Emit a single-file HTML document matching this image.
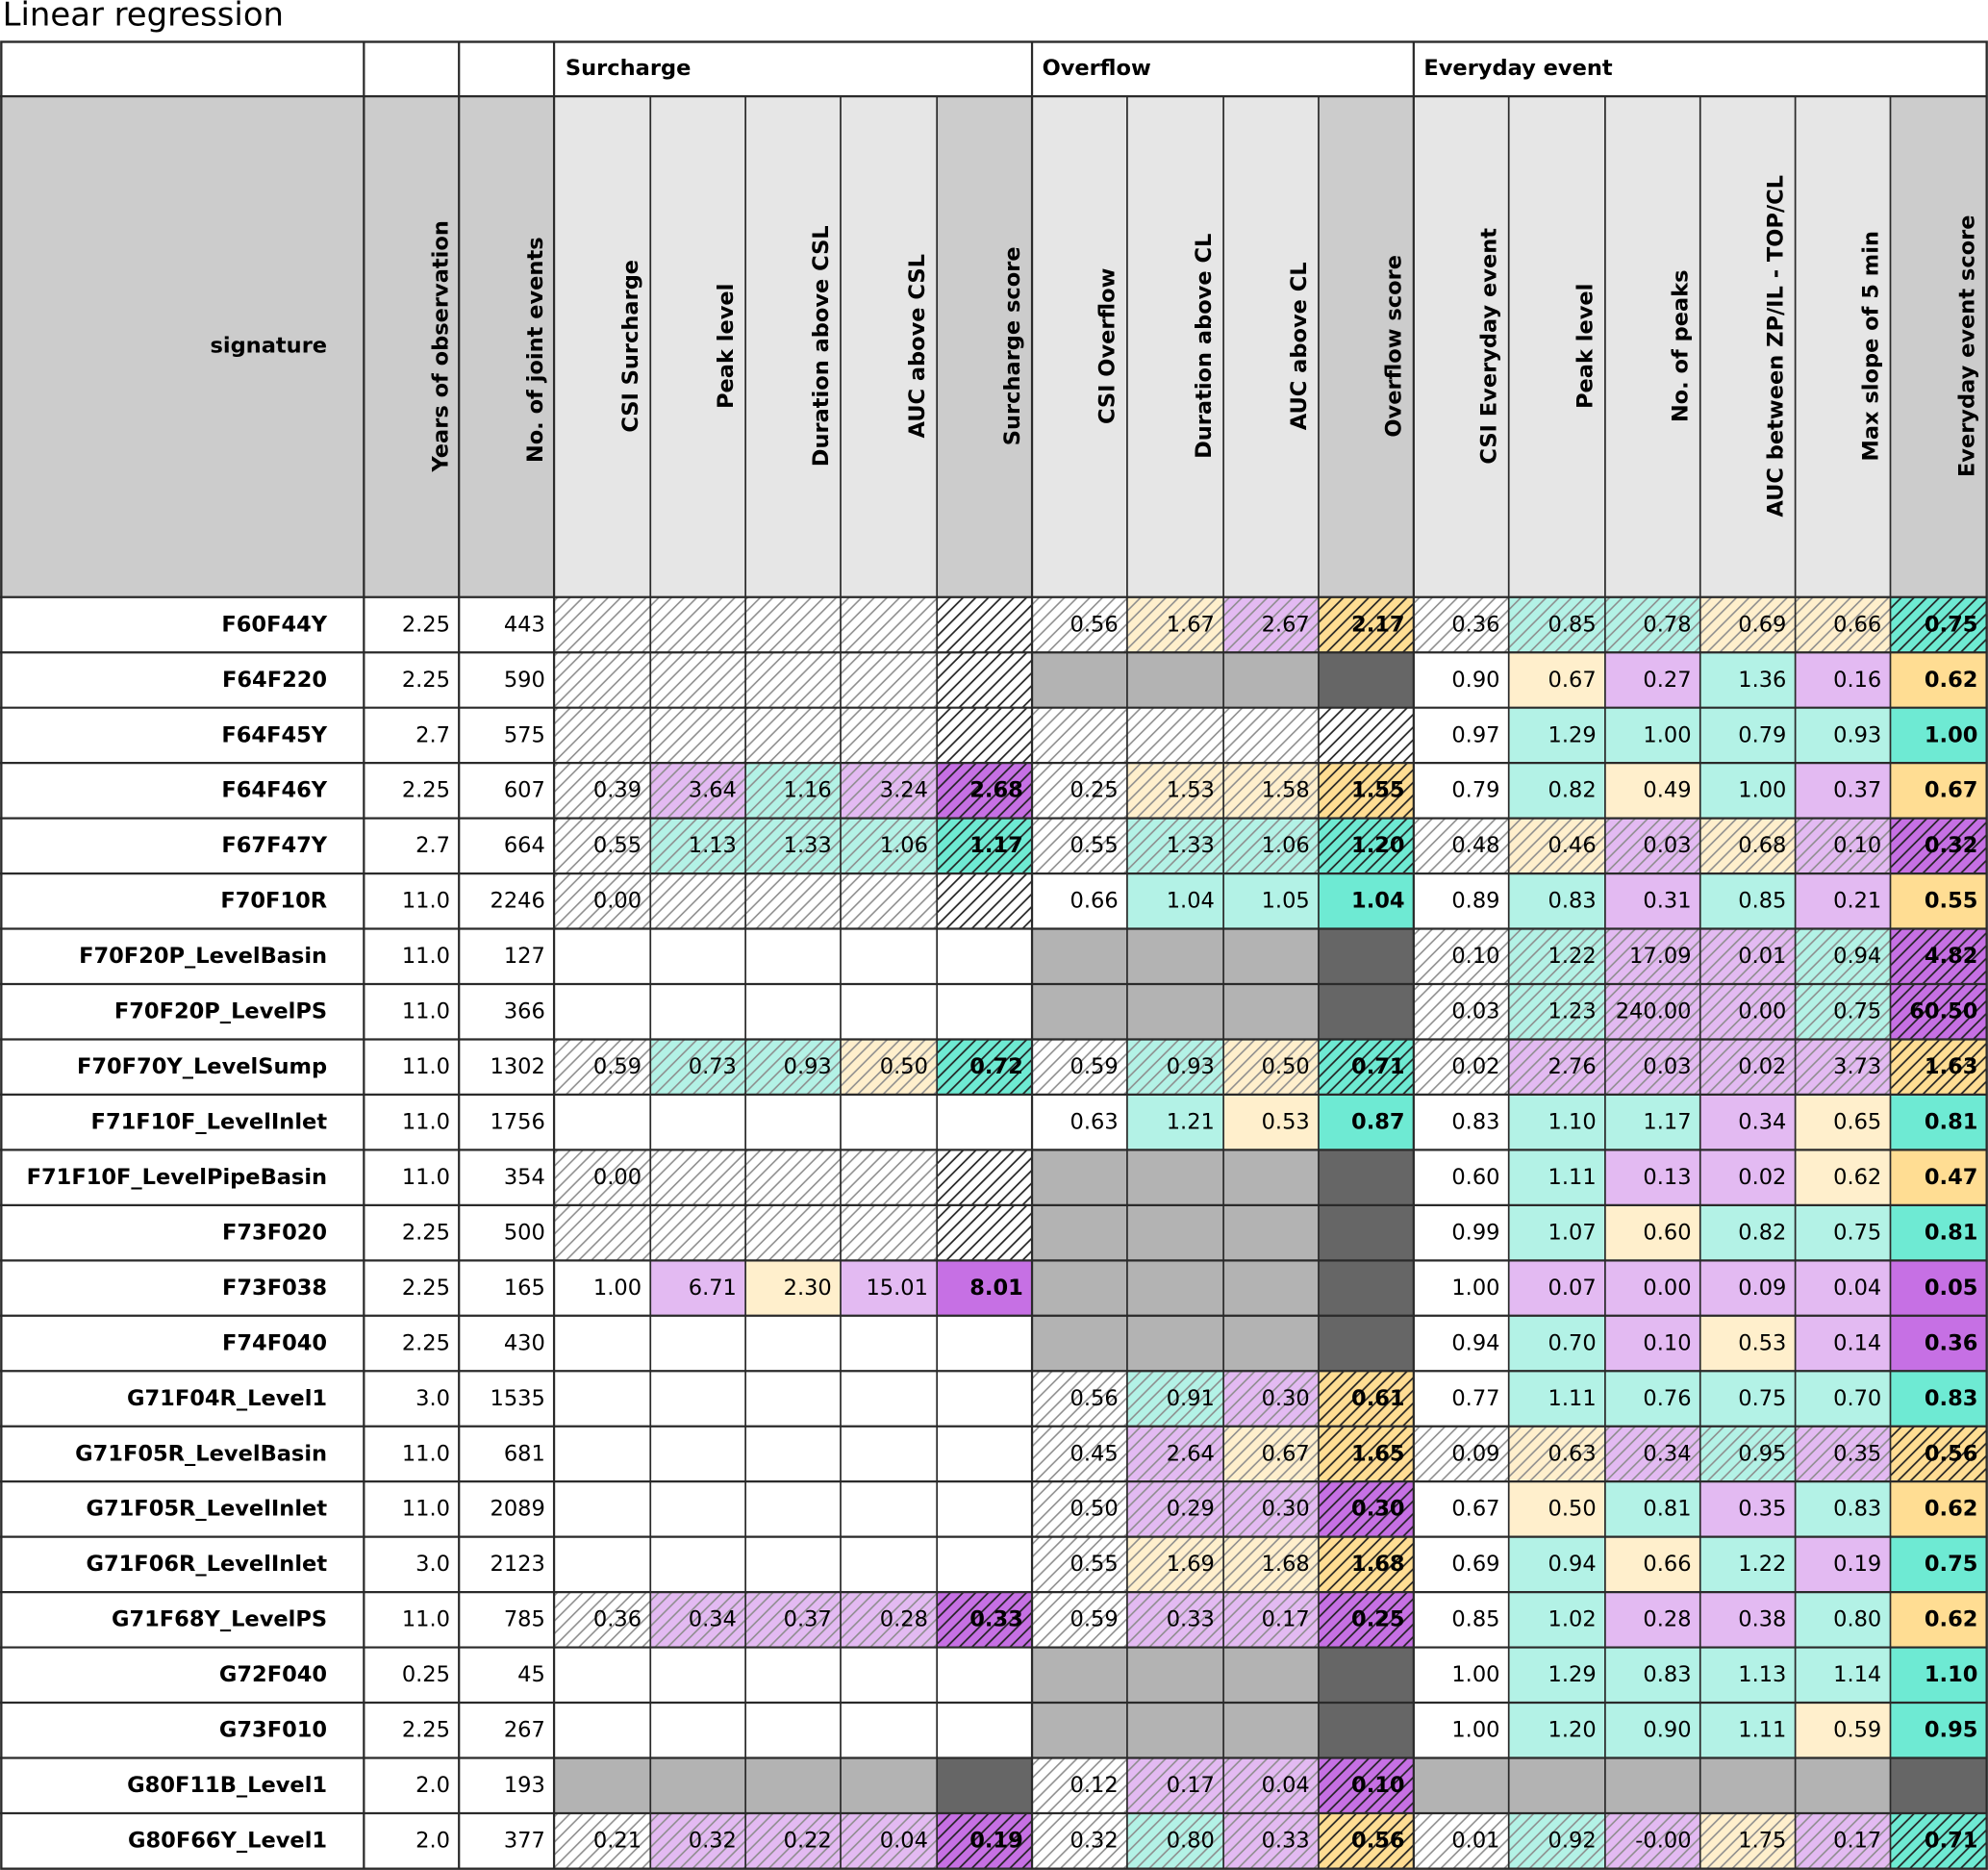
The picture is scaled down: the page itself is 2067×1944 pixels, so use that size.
<!DOCTYPE html>
<html><head><meta charset="utf-8"><style>
html,body{margin:0;padding:0;background:#fff}
svg{display:block}
text{font-family:"DejaVu Sans","Liberation Sans",sans-serif;font-size:17.1px;fill:#000;text-anchor:end}
.b{font-weight:bold}
.r rect{height:43.6px}
.w{fill:#fff}.t{fill:#b3f2e6}.T{fill:#6eead3}.p{fill:#e3baf2}.P{fill:#c670e4}.o{fill:#ffefcc}.O{fill:#ffdd93}.g{fill:#b3b3b3}.d{fill:#666}
.hl{fill:url(#hl)}.hd{fill:url(#hd)}
</style></head><body>
<svg width="2067" height="1944" viewBox="0 0 1568 1475" preserveAspectRatio="none" xmlns="http://www.w3.org/2000/svg">
<defs>
<pattern id="hl" patternUnits="userSpaceOnUse" width="10" height="10"><path d="M-1,1 l2,-2 M0,10 l10,-10 M9,11 l2,-2" stroke="#8c8c8c" stroke-width="1.2"/></pattern>
<pattern id="hd" patternUnits="userSpaceOnUse" width="10" height="10"><path d="M-1,1 l2,-2 M0,10 l10,-10 M9,11 l2,-2" stroke="#222" stroke-width="1.3"/></pattern>
</defs>
<rect width="1568" height="1475" fill="#fff"/>
<text x="2" y="20" style="text-anchor:start;font-size:25.7px">Linear regression</text>
<!-- header -->
<rect x="0" y="76" width="437" height="395" fill="#ccc"/>
<rect x="437" y="76" width="302" height="395" fill="#e6e6e6"/>
<rect x="739" y="76" width="75" height="395" fill="#ccc"/>
<rect x="814" y="76" width="226" height="395" fill="#e6e6e6"/>
<rect x="1040" y="76" width="75" height="395" fill="#ccc"/>
<rect x="1115" y="76" width="376" height="395" fill="#e6e6e6"/>
<rect x="1491" y="76" width="76" height="395" fill="#ccc"/>
<g class="b">
<text x="446" y="59" style="text-anchor:start">Surcharge</text>
<text x="822" y="59" style="text-anchor:start">Overflow</text>
<text x="1123" y="59" style="text-anchor:start">Everyday event</text>
<text x="258" y="278">signature</text>
</g>
<g class="b" style="text-anchor:middle">
<text transform="translate(353,273) rotate(-90)" style="text-anchor:middle">Years of observation</text>
<text transform="translate(428,276) rotate(-90)" style="text-anchor:middle">No. of joint events</text>
<text transform="translate(503,273) rotate(-90)" style="text-anchor:middle">CSI Surcharge</text>
<text transform="translate(578,273) rotate(-90)" style="text-anchor:middle">Peak level</text>
<text transform="translate(653,273) rotate(-90)" style="text-anchor:middle">Duration above CSL</text>
<text transform="translate(729,273) rotate(-90)" style="text-anchor:middle">AUC above CSL</text>
<text transform="translate(804,273) rotate(-90)" style="text-anchor:middle">Surcharge score</text>
<text transform="translate(879,273) rotate(-90)" style="text-anchor:middle">CSI Overflow</text>
<text transform="translate(955,273) rotate(-90)" style="text-anchor:middle">Duration above CL</text>
<text transform="translate(1030,273) rotate(-90)" style="text-anchor:middle">AUC above CL</text>
<text transform="translate(1105,273) rotate(-90)" style="text-anchor:middle">Overflow score</text>
<text transform="translate(1180,273) rotate(-90)" style="text-anchor:middle">CSI Everyday event</text>
<text transform="translate(1256,273) rotate(-90)" style="text-anchor:middle">Peak level</text>
<text transform="translate(1331,273) rotate(-90)" style="text-anchor:middle">No. of peaks</text>
<text transform="translate(1406,273) rotate(-90)" style="text-anchor:middle">AUC between ZP/IL - TOP/CL</text>
<text transform="translate(1481,273) rotate(-90)" style="text-anchor:middle">Max slope of 5 min</text>
<text transform="translate(1557,273) rotate(-90)" style="text-anchor:middle">Everyday event score</text>
</g>

<!-- row 0 -->
<g class="r" transform="translate(0,471)">
<rect class="o" x="889" width="76"/><rect class="p" x="965" width="75"/><rect class="O" x="1040" width="75"/>
<rect class="t" x="1190" width="76"/><rect class="t" x="1266" width="75"/><rect class="o" x="1341" width="75"/><rect class="o" x="1416" width="75"/><rect class="T" x="1491" width="76"/>
<rect class="hl" x="437" width="302"/><rect class="hd" x="739" width="75"/><rect class="hl" x="814" width="226"/><rect class="hd" x="1040" width="75"/><rect class="hl" x="1115" width="376"/><rect class="hd" x="1491" width="76"/>
<text x="258" y="27" class="b">F60F44Y</text><text x="355" y="27">2.25</text><text x="430" y="27">443</text>
<text x="882" y="27">0.56</text><text x="958" y="27">1.67</text><text x="1033" y="27">2.67</text><text x="1108" y="27" class="b">2.17</text>
<text x="1183" y="27">0.36</text><text x="1259" y="27">0.85</text><text x="1334" y="27">0.78</text><text x="1409" y="27">0.69</text><text x="1484" y="27">0.66</text><text x="1560" y="27" class="b">0.75</text>
</g>
<!-- row 1 -->
<g class="r" transform="translate(0,514.6)">
<rect class="g" x="814" width="226"/><rect class="d" x="1040" width="75"/>
<rect class="o" x="1190" width="76"/><rect class="p" x="1266" width="75"/><rect class="t" x="1341" width="75"/><rect class="p" x="1416" width="75"/><rect class="O" x="1491" width="76"/>
<rect class="hl" x="437" width="302"/><rect class="hd" x="739" width="75"/>
<text x="258" y="27" class="b">F64F220</text><text x="355" y="27">2.25</text><text x="430" y="27">590</text>
<text x="1183" y="27">0.90</text><text x="1259" y="27">0.67</text><text x="1334" y="27">0.27</text><text x="1409" y="27">1.36</text><text x="1484" y="27">0.16</text><text x="1560" y="27" class="b">0.62</text>
</g>
<!-- row 2 -->
<g class="r" transform="translate(0,558.2)">
<rect class="t" x="1190" width="76"/><rect class="t" x="1266" width="75"/><rect class="t" x="1341" width="75"/><rect class="t" x="1416" width="75"/><rect class="T" x="1491" width="76"/>
<rect class="hl" x="437" width="302"/><rect class="hd" x="739" width="75"/><rect class="hl" x="814" width="226"/><rect class="hd" x="1040" width="75"/>
<text x="258" y="27" class="b">F64F45Y</text><text x="355" y="27">2.7</text><text x="430" y="27">575</text>
<text x="1183" y="27">0.97</text><text x="1259" y="27">1.29</text><text x="1334" y="27">1.00</text><text x="1409" y="27">0.79</text><text x="1484" y="27">0.93</text><text x="1560" y="27" class="b">1.00</text>
</g>
<!-- row 3 -->
<g class="r" transform="translate(0,601.8)">
<rect class="p" x="513" width="75"/><rect class="t" x="588" width="75"/><rect class="p" x="663" width="76"/><rect class="P" x="739" width="75"/>
<rect class="o" x="889" width="76"/><rect class="o" x="965" width="75"/><rect class="O" x="1040" width="75"/>
<rect class="t" x="1190" width="76"/><rect class="o" x="1266" width="75"/><rect class="t" x="1341" width="75"/><rect class="p" x="1416" width="75"/><rect class="O" x="1491" width="76"/>
<rect class="hl" x="437" width="302"/><rect class="hd" x="739" width="75"/><rect class="hl" x="814" width="226"/><rect class="hd" x="1040" width="75"/>
<text x="258" y="27" class="b">F64F46Y</text><text x="355" y="27">2.25</text><text x="430" y="27">607</text>
<text x="506" y="27">0.39</text><text x="581" y="27">3.64</text><text x="656" y="27">1.16</text><text x="732" y="27">3.24</text><text x="807" y="27" class="b">2.68</text>
<text x="882" y="27">0.25</text><text x="958" y="27">1.53</text><text x="1033" y="27">1.58</text><text x="1108" y="27" class="b">1.55</text>
<text x="1183" y="27">0.79</text><text x="1259" y="27">0.82</text><text x="1334" y="27">0.49</text><text x="1409" y="27">1.00</text><text x="1484" y="27">0.37</text><text x="1560" y="27" class="b">0.67</text>
</g>
<!-- row 4 -->
<g class="r" transform="translate(0,645.4)">
<rect class="t" x="513" width="75"/><rect class="t" x="588" width="75"/><rect class="t" x="663" width="76"/><rect class="T" x="739" width="75"/>
<rect class="t" x="889" width="76"/><rect class="t" x="965" width="75"/><rect class="T" x="1040" width="75"/>
<rect class="o" x="1190" width="76"/><rect class="p" x="1266" width="75"/><rect class="o" x="1341" width="75"/><rect class="p" x="1416" width="75"/><rect class="P" x="1491" width="76"/>
<rect class="hl" x="437" width="302"/><rect class="hd" x="739" width="75"/><rect class="hl" x="814" width="226"/><rect class="hd" x="1040" width="75"/><rect class="hl" x="1115" width="376"/><rect class="hd" x="1491" width="76"/>
<text x="258" y="27" class="b">F67F47Y</text><text x="355" y="27">2.7</text><text x="430" y="27">664</text>
<text x="506" y="27">0.55</text><text x="581" y="27">1.13</text><text x="656" y="27">1.33</text><text x="732" y="27">1.06</text><text x="807" y="27" class="b">1.17</text>
<text x="882" y="27">0.55</text><text x="958" y="27">1.33</text><text x="1033" y="27">1.06</text><text x="1108" y="27" class="b">1.20</text>
<text x="1183" y="27">0.48</text><text x="1259" y="27">0.46</text><text x="1334" y="27">0.03</text><text x="1409" y="27">0.68</text><text x="1484" y="27">0.10</text><text x="1560" y="27" class="b">0.32</text>
</g>
<!-- row 5 -->
<g class="r" transform="translate(0,689)">
<rect class="t" x="889" width="76"/><rect class="t" x="965" width="75"/><rect class="T" x="1040" width="75"/>
<rect class="t" x="1190" width="76"/><rect class="p" x="1266" width="75"/><rect class="t" x="1341" width="75"/><rect class="p" x="1416" width="75"/><rect class="O" x="1491" width="76"/>
<rect class="hl" x="437" width="302"/><rect class="hd" x="739" width="75"/>
<text x="258" y="27" class="b">F70F10R</text><text x="355" y="27">11.0</text><text x="430" y="27">2246</text>
<text x="506" y="27">0.00</text>
<text x="882" y="27">0.66</text><text x="958" y="27">1.04</text><text x="1033" y="27">1.05</text><text x="1108" y="27" class="b">1.04</text>
<text x="1183" y="27">0.89</text><text x="1259" y="27">0.83</text><text x="1334" y="27">0.31</text><text x="1409" y="27">0.85</text><text x="1484" y="27">0.21</text><text x="1560" y="27" class="b">0.55</text>
</g>
<!-- row 6 -->
<g class="r" transform="translate(0,732.6)">
<rect class="g" x="814" width="226"/><rect class="d" x="1040" width="75"/>
<rect class="t" x="1190" width="76"/><rect class="p" x="1266" width="75"/><rect class="p" x="1341" width="75"/><rect class="t" x="1416" width="75"/><rect class="P" x="1491" width="76"/>
<rect class="hl" x="1115" width="376"/><rect class="hd" x="1491" width="76"/>
<text x="258" y="27" class="b">F70F20P_LevelBasin</text><text x="355" y="27">11.0</text><text x="430" y="27">127</text>
<text x="1183" y="27">0.10</text><text x="1259" y="27">1.22</text><text x="1334" y="27">17.09</text><text x="1409" y="27">0.01</text><text x="1484" y="27">0.94</text><text x="1560" y="27" class="b">4.82</text>
</g>
<!-- row 7 -->
<g class="r" transform="translate(0,776.2)">
<rect class="g" x="814" width="226"/><rect class="d" x="1040" width="75"/>
<rect class="t" x="1190" width="76"/><rect class="p" x="1266" width="75"/><rect class="p" x="1341" width="75"/><rect class="t" x="1416" width="75"/><rect class="P" x="1491" width="76"/>
<rect class="hl" x="1115" width="376"/><rect class="hd" x="1491" width="76"/>
<text x="258" y="27" class="b">F70F20P_LevelPS</text><text x="355" y="27">11.0</text><text x="430" y="27">366</text>
<text x="1183" y="27">0.03</text><text x="1259" y="27">1.23</text><text x="1334" y="27">240.00</text><text x="1409" y="27">0.00</text><text x="1484" y="27">0.75</text><text x="1560" y="27" class="b">60.50</text>
</g>
<!-- row 8 -->
<g class="r" transform="translate(0,819.8)">
<rect class="t" x="513" width="75"/><rect class="t" x="588" width="75"/><rect class="o" x="663" width="76"/><rect class="T" x="739" width="75"/>
<rect class="t" x="889" width="76"/><rect class="o" x="965" width="75"/><rect class="T" x="1040" width="75"/>
<rect class="p" x="1190" width="76"/><rect class="p" x="1266" width="75"/><rect class="p" x="1341" width="75"/><rect class="p" x="1416" width="75"/><rect class="O" x="1491" width="76"/>
<rect class="hl" x="437" width="302"/><rect class="hd" x="739" width="75"/><rect class="hl" x="814" width="226"/><rect class="hd" x="1040" width="75"/><rect class="hl" x="1115" width="376"/><rect class="hd" x="1491" width="76"/>
<text x="258" y="27" class="b">F70F70Y_LevelSump</text><text x="355" y="27">11.0</text><text x="430" y="27">1302</text>
<text x="506" y="27">0.59</text><text x="581" y="27">0.73</text><text x="656" y="27">0.93</text><text x="732" y="27">0.50</text><text x="807" y="27" class="b">0.72</text>
<text x="882" y="27">0.59</text><text x="958" y="27">0.93</text><text x="1033" y="27">0.50</text><text x="1108" y="27" class="b">0.71</text>
<text x="1183" y="27">0.02</text><text x="1259" y="27">2.76</text><text x="1334" y="27">0.03</text><text x="1409" y="27">0.02</text><text x="1484" y="27">3.73</text><text x="1560" y="27" class="b">1.63</text>
</g>
<!-- row 9 -->
<g class="r" transform="translate(0,863.4)">
<rect class="t" x="889" width="76"/><rect class="o" x="965" width="75"/><rect class="T" x="1040" width="75"/>
<rect class="t" x="1190" width="76"/><rect class="t" x="1266" width="75"/><rect class="p" x="1341" width="75"/><rect class="o" x="1416" width="75"/><rect class="T" x="1491" width="76"/>
<text x="258" y="27" class="b">F71F10F_LevelInlet</text><text x="355" y="27">11.0</text><text x="430" y="27">1756</text>
<text x="882" y="27">0.63</text><text x="958" y="27">1.21</text><text x="1033" y="27">0.53</text><text x="1108" y="27" class="b">0.87</text>
<text x="1183" y="27">0.83</text><text x="1259" y="27">1.10</text><text x="1334" y="27">1.17</text><text x="1409" y="27">0.34</text><text x="1484" y="27">0.65</text><text x="1560" y="27" class="b">0.81</text>
</g>
<!-- row 10 -->
<g class="r" transform="translate(0,907)">
<rect class="g" x="814" width="226"/><rect class="d" x="1040" width="75"/>
<rect class="t" x="1190" width="76"/><rect class="p" x="1266" width="75"/><rect class="p" x="1341" width="75"/><rect class="o" x="1416" width="75"/><rect class="O" x="1491" width="76"/>
<rect class="hl" x="437" width="302"/><rect class="hd" x="739" width="75"/>
<text x="258" y="27" class="b">F71F10F_LevelPipeBasin</text><text x="355" y="27">11.0</text><text x="430" y="27">354</text>
<text x="506" y="27">0.00</text>
<text x="1183" y="27">0.60</text><text x="1259" y="27">1.11</text><text x="1334" y="27">0.13</text><text x="1409" y="27">0.02</text><text x="1484" y="27">0.62</text><text x="1560" y="27" class="b">0.47</text>
</g>
<!-- row 11 -->
<g class="r" transform="translate(0,950.6)">
<rect class="g" x="814" width="226"/><rect class="d" x="1040" width="75"/>
<rect class="t" x="1190" width="76"/><rect class="o" x="1266" width="75"/><rect class="t" x="1341" width="75"/><rect class="t" x="1416" width="75"/><rect class="T" x="1491" width="76"/>
<rect class="hl" x="437" width="302"/><rect class="hd" x="739" width="75"/>
<text x="258" y="27" class="b">F73F020</text><text x="355" y="27">2.25</text><text x="430" y="27">500</text>
<text x="1183" y="27">0.99</text><text x="1259" y="27">1.07</text><text x="1334" y="27">0.60</text><text x="1409" y="27">0.82</text><text x="1484" y="27">0.75</text><text x="1560" y="27" class="b">0.81</text>
</g>
<!-- row 12 -->
<g class="r" transform="translate(0,994.2)">
<rect class="p" x="513" width="75"/><rect class="o" x="588" width="75"/><rect class="p" x="663" width="76"/><rect class="P" x="739" width="75"/>
<rect class="g" x="814" width="226"/><rect class="d" x="1040" width="75"/>
<rect class="p" x="1190" width="76"/><rect class="p" x="1266" width="75"/><rect class="p" x="1341" width="75"/><rect class="p" x="1416" width="75"/><rect class="P" x="1491" width="76"/>
<text x="258" y="27" class="b">F73F038</text><text x="355" y="27">2.25</text><text x="430" y="27">165</text>
<text x="506" y="27">1.00</text><text x="581" y="27">6.71</text><text x="656" y="27">2.30</text><text x="732" y="27">15.01</text><text x="807" y="27" class="b">8.01</text>
<text x="1183" y="27">1.00</text><text x="1259" y="27">0.07</text><text x="1334" y="27">0.00</text><text x="1409" y="27">0.09</text><text x="1484" y="27">0.04</text><text x="1560" y="27" class="b">0.05</text>
</g>
<!-- row 13 -->
<g class="r" transform="translate(0,1037.8)">
<rect class="g" x="814" width="226"/><rect class="d" x="1040" width="75"/>
<rect class="t" x="1190" width="76"/><rect class="p" x="1266" width="75"/><rect class="o" x="1341" width="75"/><rect class="p" x="1416" width="75"/><rect class="P" x="1491" width="76"/>
<text x="258" y="27" class="b">F74F040</text><text x="355" y="27">2.25</text><text x="430" y="27">430</text>
<text x="1183" y="27">0.94</text><text x="1259" y="27">0.70</text><text x="1334" y="27">0.10</text><text x="1409" y="27">0.53</text><text x="1484" y="27">0.14</text><text x="1560" y="27" class="b">0.36</text>
</g>
<!-- row 14 -->
<g class="r" transform="translate(0,1081.4)">
<rect class="t" x="889" width="76"/><rect class="p" x="965" width="75"/><rect class="O" x="1040" width="75"/>
<rect class="t" x="1190" width="76"/><rect class="t" x="1266" width="75"/><rect class="t" x="1341" width="75"/><rect class="t" x="1416" width="75"/><rect class="T" x="1491" width="76"/>
<rect class="hl" x="814" width="226"/><rect class="hd" x="1040" width="75"/>
<text x="258" y="27" class="b">G71F04R_Level1</text><text x="355" y="27">3.0</text><text x="430" y="27">1535</text>
<text x="882" y="27">0.56</text><text x="958" y="27">0.91</text><text x="1033" y="27">0.30</text><text x="1108" y="27" class="b">0.61</text>
<text x="1183" y="27">0.77</text><text x="1259" y="27">1.11</text><text x="1334" y="27">0.76</text><text x="1409" y="27">0.75</text><text x="1484" y="27">0.70</text><text x="1560" y="27" class="b">0.83</text>
</g>
<!-- row 15 -->
<g class="r" transform="translate(0,1125)">
<rect class="p" x="889" width="76"/><rect class="o" x="965" width="75"/><rect class="O" x="1040" width="75"/>
<rect class="o" x="1190" width="76"/><rect class="p" x="1266" width="75"/><rect class="t" x="1341" width="75"/><rect class="p" x="1416" width="75"/><rect class="O" x="1491" width="76"/>
<rect class="hl" x="814" width="226"/><rect class="hd" x="1040" width="75"/><rect class="hl" x="1115" width="376"/><rect class="hd" x="1491" width="76"/>
<text x="258" y="27" class="b">G71F05R_LevelBasin</text><text x="355" y="27">11.0</text><text x="430" y="27">681</text>
<text x="882" y="27">0.45</text><text x="958" y="27">2.64</text><text x="1033" y="27">0.67</text><text x="1108" y="27" class="b">1.65</text>
<text x="1183" y="27">0.09</text><text x="1259" y="27">0.63</text><text x="1334" y="27">0.34</text><text x="1409" y="27">0.95</text><text x="1484" y="27">0.35</text><text x="1560" y="27" class="b">0.56</text>
</g>
<!-- row 16 -->
<g class="r" transform="translate(0,1168.6)">
<rect class="p" x="889" width="76"/><rect class="p" x="965" width="75"/><rect class="P" x="1040" width="75"/>
<rect class="o" x="1190" width="76"/><rect class="t" x="1266" width="75"/><rect class="p" x="1341" width="75"/><rect class="t" x="1416" width="75"/><rect class="O" x="1491" width="76"/>
<rect class="hl" x="814" width="226"/><rect class="hd" x="1040" width="75"/>
<text x="258" y="27" class="b">G71F05R_LevelInlet</text><text x="355" y="27">11.0</text><text x="430" y="27">2089</text>
<text x="882" y="27">0.50</text><text x="958" y="27">0.29</text><text x="1033" y="27">0.30</text><text x="1108" y="27" class="b">0.30</text>
<text x="1183" y="27">0.67</text><text x="1259" y="27">0.50</text><text x="1334" y="27">0.81</text><text x="1409" y="27">0.35</text><text x="1484" y="27">0.83</text><text x="1560" y="27" class="b">0.62</text>
</g>
<!-- row 17 -->
<g class="r" transform="translate(0,1212.2)">
<rect class="o" x="889" width="76"/><rect class="o" x="965" width="75"/><rect class="O" x="1040" width="75"/>
<rect class="t" x="1190" width="76"/><rect class="o" x="1266" width="75"/><rect class="t" x="1341" width="75"/><rect class="p" x="1416" width="75"/><rect class="T" x="1491" width="76"/>
<rect class="hl" x="814" width="226"/><rect class="hd" x="1040" width="75"/>
<text x="258" y="27" class="b">G71F06R_LevelInlet</text><text x="355" y="27">3.0</text><text x="430" y="27">2123</text>
<text x="882" y="27">0.55</text><text x="958" y="27">1.69</text><text x="1033" y="27">1.68</text><text x="1108" y="27" class="b">1.68</text>
<text x="1183" y="27">0.69</text><text x="1259" y="27">0.94</text><text x="1334" y="27">0.66</text><text x="1409" y="27">1.22</text><text x="1484" y="27">0.19</text><text x="1560" y="27" class="b">0.75</text>
</g>
<!-- row 18 -->
<g class="r" transform="translate(0,1255.8)">
<rect class="p" x="513" width="75"/><rect class="p" x="588" width="75"/><rect class="p" x="663" width="76"/><rect class="P" x="739" width="75"/>
<rect class="p" x="889" width="76"/><rect class="p" x="965" width="75"/><rect class="P" x="1040" width="75"/>
<rect class="t" x="1190" width="76"/><rect class="p" x="1266" width="75"/><rect class="p" x="1341" width="75"/><rect class="t" x="1416" width="75"/><rect class="O" x="1491" width="76"/>
<rect class="hl" x="437" width="302"/><rect class="hd" x="739" width="75"/><rect class="hl" x="814" width="226"/><rect class="hd" x="1040" width="75"/>
<text x="258" y="27" class="b">G71F68Y_LevelPS</text><text x="355" y="27">11.0</text><text x="430" y="27">785</text>
<text x="506" y="27">0.36</text><text x="581" y="27">0.34</text><text x="656" y="27">0.37</text><text x="732" y="27">0.28</text><text x="807" y="27" class="b">0.33</text>
<text x="882" y="27">0.59</text><text x="958" y="27">0.33</text><text x="1033" y="27">0.17</text><text x="1108" y="27" class="b">0.25</text>
<text x="1183" y="27">0.85</text><text x="1259" y="27">1.02</text><text x="1334" y="27">0.28</text><text x="1409" y="27">0.38</text><text x="1484" y="27">0.80</text><text x="1560" y="27" class="b">0.62</text>
</g>
<!-- row 19 -->
<g class="r" transform="translate(0,1299.4)">
<rect class="g" x="814" width="226"/><rect class="d" x="1040" width="75"/>
<rect class="t" x="1190" width="76"/><rect class="t" x="1266" width="75"/><rect class="t" x="1341" width="75"/><rect class="t" x="1416" width="75"/><rect class="T" x="1491" width="76"/>
<text x="258" y="27" class="b">G72F040</text><text x="355" y="27">0.25</text><text x="430" y="27">45</text>
<text x="1183" y="27">1.00</text><text x="1259" y="27">1.29</text><text x="1334" y="27">0.83</text><text x="1409" y="27">1.13</text><text x="1484" y="27">1.14</text><text x="1560" y="27" class="b">1.10</text>
</g>
<!-- row 20 -->
<g class="r" transform="translate(0,1343)">
<rect class="g" x="814" width="226"/><rect class="d" x="1040" width="75"/>
<rect class="t" x="1190" width="76"/><rect class="t" x="1266" width="75"/><rect class="t" x="1341" width="75"/><rect class="o" x="1416" width="75"/><rect class="T" x="1491" width="76"/>
<text x="258" y="27" class="b">G73F010</text><text x="355" y="27">2.25</text><text x="430" y="27">267</text>
<text x="1183" y="27">1.00</text><text x="1259" y="27">1.20</text><text x="1334" y="27">0.90</text><text x="1409" y="27">1.11</text><text x="1484" y="27">0.59</text><text x="1560" y="27" class="b">0.95</text>
</g>
<!-- row 21 -->
<g class="r" transform="translate(0,1386.6)">
<rect class="g" x="437" width="302"/><rect class="d" x="739" width="75"/>
<rect class="p" x="889" width="76"/><rect class="p" x="965" width="75"/><rect class="P" x="1040" width="75"/>
<rect class="g" x="1115" width="376"/><rect class="d" x="1491" width="76"/>
<rect class="hl" x="814" width="226"/><rect class="hd" x="1040" width="75"/>
<text x="258" y="27" class="b">G80F11B_Level1</text><text x="355" y="27">2.0</text><text x="430" y="27">193</text>
<text x="882" y="27">0.12</text><text x="958" y="27">0.17</text><text x="1033" y="27">0.04</text><text x="1108" y="27" class="b">0.10</text>
</g>
<!-- row 22 -->
<g class="r" transform="translate(0,1430.2)">
<rect class="p" x="513" width="75"/><rect class="p" x="588" width="75"/><rect class="p" x="663" width="76"/><rect class="P" x="739" width="75"/>
<rect class="t" x="889" width="76"/><rect class="p" x="965" width="75"/><rect class="O" x="1040" width="75"/>
<rect class="t" x="1190" width="76"/><rect class="p" x="1266" width="75"/><rect class="o" x="1341" width="75"/><rect class="p" x="1416" width="75"/><rect class="T" x="1491" width="76"/>
<rect class="hl" x="437" width="302"/><rect class="hd" x="739" width="75"/><rect class="hl" x="814" width="226"/><rect class="hd" x="1040" width="75"/><rect class="hl" x="1115" width="376"/><rect class="hd" x="1491" width="76"/>
<text x="258" y="27" class="b">G80F66Y_Level1</text><text x="355" y="27">2.0</text><text x="430" y="27">377</text>
<text x="506" y="27">0.21</text><text x="581" y="27">0.32</text><text x="656" y="27">0.22</text><text x="732" y="27">0.04</text><text x="807" y="27" class="b">0.19</text>
<text x="882" y="27">0.32</text><text x="958" y="27">0.80</text><text x="1033" y="27">0.33</text><text x="1108" y="27" class="b">0.56</text>
<text x="1183" y="27">0.01</text><text x="1259" y="27">0.92</text><text x="1334" y="27">-0.00</text><text x="1409" y="27">1.75</text><text x="1484" y="27">0.17</text><text x="1560" y="27" class="b">0.71</text>
</g>

<!-- grid -->
<g stroke="#2a2a2a" stroke-width="1.3" fill="none">
<rect x="1" y="33" width="1566" height="1441" stroke-width="1.8"/>
<path d="M0,76H1567 M0,471H1567 M0,514.6H1567 M0,558.2H1567 M0,601.8H1567 M0,645.4H1567 M0,689H1567 M0,732.6H1567 M0,776.2H1567 M0,819.8H1567 M0,863.4H1567 M0,907H1567 M0,950.6H1567 M0,994.2H1567 M0,1037.8H1567 M0,1081.4H1567 M0,1125H1567 M0,1168.6H1567 M0,1212.2H1567 M0,1255.8H1567 M0,1299.4H1567 M0,1343H1567 M0,1386.6H1567 M0,1430.2H1567" stroke-width="1.7"/>
<path d="M287,33V1474 M362,33V1474 M437,33V1474 M814,33V1474 M1115,33V1474" stroke-width="1.7"/>
<path d="M513,76V1474 M588,76V1474 M663,76V1474 M739,76V1474 M889,76V1474 M965,76V1474 M1040,76V1474 M1190,76V1474 M1266,76V1474 M1341,76V1474 M1416,76V1474 M1491,76V1474"/>
</g>
</svg>
</body></html>
